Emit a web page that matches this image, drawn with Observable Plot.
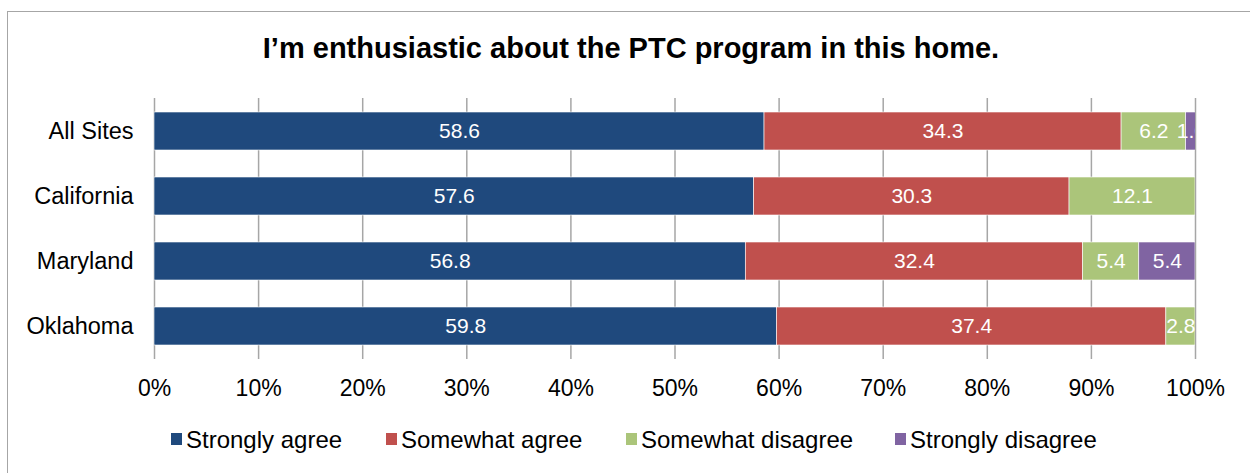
<!DOCTYPE html>
<html><head><meta charset="utf-8">
<script src="https://cdn.jsdelivr.net/npm/d3@7"></script>
<script src="https://cdn.jsdelivr.net/npm/@observablehq/plot@0.6"></script>
<style>
html,body{margin:0;padding:0;background:#fff}
body{width:1250px;height:473px;overflow:hidden;position:relative;font-family:"Liberation Sans",Arial,sans-serif;color:#000}
#frame{position:absolute;left:7px;top:11px;width:1300px;height:500px;border:1px solid #a6a6a6}
#title{position:absolute;top:32px;left:0;width:1262px;text-align:center;font-weight:bold;font-size:29px;line-height:32px}
#chart{position:absolute;left:0;top:0}
.leg{position:absolute;top:426px;font-size:24px;line-height:28px;white-space:nowrap}
.sw{position:absolute;top:433px;width:11px;height:12px}
</style></head>
<body>
<div id="frame"></div>
<div id="title">I’m enthusiastic about the PTC program in this home.</div>
<div id="chart"></div>
<div id="legend"></div>
<script>
const sites = ["All Sites", "California", "Maryland", "Oklahoma"];
const responses = ["Strongly agree", "Somewhat agree", "Somewhat disagree", "Strongly disagree"];
const stronglyAgree = [58.6, 57.6, 56.8, 59.8];
const somewhatAgree = [34.3, 30.3, 32.4, 37.4];
const somewhatDisagree = [6.2, 12.1, 5.4, 2.8];
const stronglyDisagree = [1.0, 0, 5.4, 0];
const xTicks = [0, 10, 20, 30, 40, 50, 60, 70, 80, 90, 100];
const colors = ["#1F497D", "#C0504D", "#ABC57A", "#8064A2"];

const series = [stronglyAgree, somewhatAgree, somewhatDisagree, stronglyDisagree];
const data = [];
sites.forEach((site, i) => {
  responses.forEach((resp, j) => {
    data.push({site, response: resp, value: series[j][i]});
  });
});

const chart = Plot.plot({
  width: 1250,
  height: 410,
  marginLeft: 154,
  marginRight: 55,
  marginTop: 98,
  marginBottom: 51,
  x: {domain: [0, 100], label: null},
  y: {domain: sites, paddingInner: 0.42, paddingOuter: 0.2, label: null},
  color: {domain: responses, range: colors},
  style: {fontFamily: "'Liberation Sans', Arial, sans-serif", fontSize: "23px", color: "#000", background: "transparent"},
  marks: [
    Plot.ruleX(xTicks, {stroke: "#a6a6a6", strokeWidth: 1.5, strokeOpacity: 1}),
    Plot.barX(data, Plot.stackX({x: "value", y: "site", fill: "response", clip: true, stroke: "#ffffff", strokeWidth: 0.6})),
    Plot.text(data.filter(d => d.value > 0), Plot.stackX({x: "value", y: "site", z: "response", text: d => d.value.toFixed(1), fill: "white", fontSize: 21, clip: true})),
    Plot.axisX({ticks: xTicks, tickSize: 0, tickPadding: 20, tickFormat: d => d + "%", fontSize: 23, label: null}),
    Plot.axisY({tickSize: 0, tickPadding: 21, fontSize: 23.5, label: null})
  ]
});
document.getElementById("chart").appendChild(chart);

const legendX = [186, 401, 641, 910];
const legend = document.getElementById("legend");
responses.forEach((r, i) => {
  const sw = document.createElement("div");
  sw.className = "sw";
  sw.style.left = (legendX[i] - 15) + "px";
  sw.style.background = colors[i];
  legend.appendChild(sw);
  const t = document.createElement("div");
  t.className = "leg";
  t.style.left = legendX[i] + "px";
  t.textContent = r;
  legend.appendChild(t);
});
</script>
</body></html>
